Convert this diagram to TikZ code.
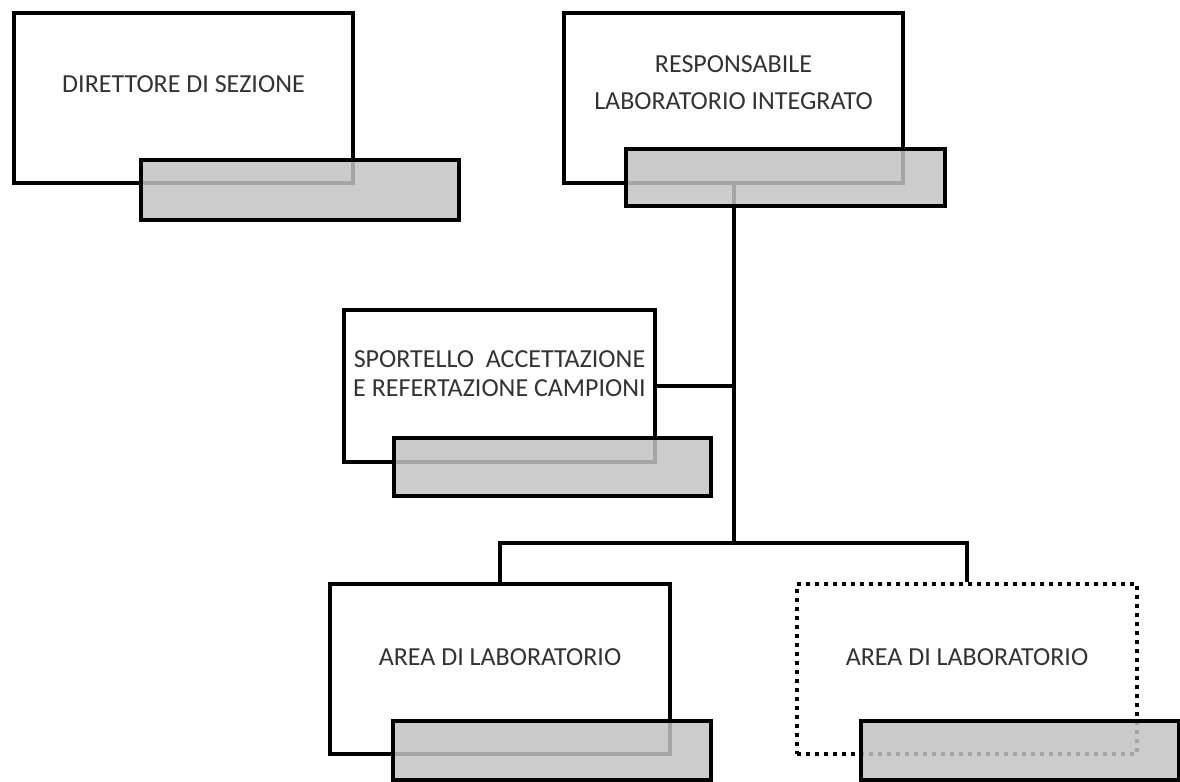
\documentclass[tikz,border=0pt]{standalone}
\usepackage{fontspec}
\setmainfont{Carlito}
\begin{document}
\begin{tikzpicture}[x=0.5pt,y=-0.5pt,
  mainbox/.style={draw=black,line width=2pt,fill=white,inner sep=0pt,anchor=north west},
  dotbox/.style={mainbox,line cap=butt,dash pattern=on 2pt off 2.5pt},
  graybox/.style={draw=black,line width=2pt,fill={rgb,255:red,195;green,195;blue,195},fill opacity=0.85,inner sep=0pt,anchor=north west},
  lbl/.style={font=\fontsize{13}{18}\selectfont,text=black!80,align=center,inner sep=0pt},
  conn/.style={draw=black,line width=2pt}]
\useasboundingbox (0,0) rectangle (1180,782);
% main boxes
\node[mainbox,minimum width=169.5pt,minimum height=85pt] (m1) at (12,11) {};
\node[mainbox,minimum width=169.5pt,minimum height=85pt] (m2) at (562,11) {};
\node[mainbox,minimum width=155.5pt,minimum height=76pt] (m3) at (342,308) {};
\node[mainbox,minimum width=170pt,minimum height=85pt] (m4) at (328,582) {};
\node[dotbox,minimum width=170pt,minimum height=85pt] (m5) at (795,582) {};
% texts
\node[lbl] (t1) at ([yshift=7pt]m1.center) {DIRETTORE DI SEZIONE};
\node[lbl,font=\fontsize{13}{18.5}\selectfont] (t2) at ([yshift=7.5pt]m2.center) {RESPONSABILE\\LABORATORIO INTEGRATO};
\node[lbl,font=\fontsize{13}{14.5}\selectfont] (t3) at ([yshift=6pt]m3.center) {SPORTELLO\ \ ACCETTAZIONE\\E REFERTAZIONE CAMPIONI};
\node[lbl] (t4) at ([yshift=6pt]m4.center) {AREA DI LABORATORIO};
\node[lbl] (t5) at ([yshift=6pt]m5.center) {AREA DI LABORATORIO};
% connectors
\draw[conn] (m2.south) -- ++(0,358) coordinate (jb);
\draw[conn] (m3.east) -- (m3.east -| m2.south);
\draw[conn] (m4.north) |- (jb) -| (m5.north);
% gray boxes
\node[graybox,minimum width=159pt,minimum height=30pt] (g1) at (139,158) {};
\node[graybox,minimum width=159.5pt,minimum height=28.5pt] (g2) at (624,147) {};
\node[graybox,minimum width=158.5pt,minimum height=29pt] (g3) at (392,436) {};
\node[graybox,minimum width=159pt,minimum height=29.5pt] (g4) at (391,719) {};
\node[graybox,minimum width=159pt,minimum height=29.5pt] (g5) at (859,719) {};
\end{tikzpicture}
\end{document}
